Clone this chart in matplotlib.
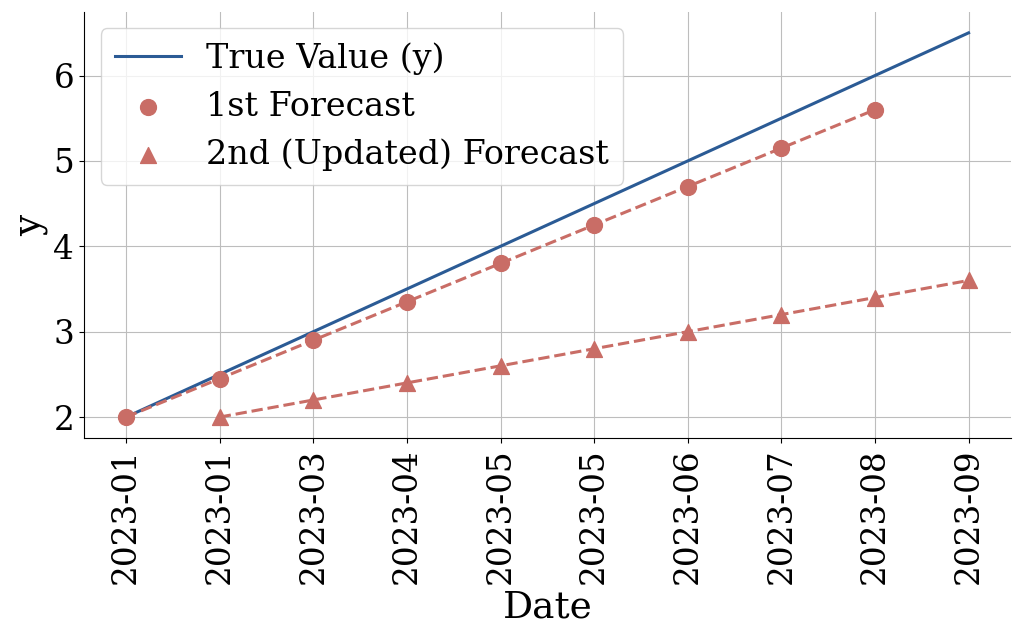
import matplotlib
matplotlib.use("Agg")
import matplotlib.pyplot as plt
import matplotlib.dates as mdates
import pandas as pd
import numpy as np

dates = pd.date_range("2023-01-01", periods=10, freq="30D")
true_values = [2.0, 2.5, 3.0, 3.5, 4.0, 4.5, 5.0, 5.5, 6.0, 6.5]
first_forecast = [2.0, 2.45, 2.9, 3.35, 3.8, 4.25, 4.7, 5.15, 5.6]
second_forecast = [2.0, 2.2, 2.4, 2.6, 2.8, 3.0, 3.2, 3.4, 3.6]

blue = "#2b5b95"
red = "#c96d66"

plt.rcParams["font.family"] = ["DejaVu Serif"]
fig = plt.figure(figsize=(10.24, 6.4), dpi=100)
ax = fig.add_axes([0.082, 0.315, 0.905, 0.667])

ax.plot(dates, true_values, color=blue, lw=2.2, label="True Value (y)", zorder=3)
ax.plot(dates[:9], first_forecast, color=red, lw=2.2, ls="--", zorder=3)
ax.scatter(dates[:9], first_forecast, color=red, s=130, marker="o", label="1st Forecast", zorder=4)
ax.plot(dates[1:], second_forecast, color=red, lw=2.2, ls="--", zorder=3)
ax.scatter(dates[1:], second_forecast, color=red, s=130, marker="^", label="2nd (Updated) Forecast", zorder=4)

ax.set_xticks(dates)
ax.xaxis.set_major_formatter(mdates.DateFormatter("%Y-%m"))
ax.tick_params(axis="x", rotation=90, labelsize=23.5)
ax.tick_params(axis="y", labelsize=23.5)
ax.set_yticks([2, 3, 4, 5, 6])
ax.set_xlabel("Date", fontsize=27, labelpad=4)
ax.set_ylabel("y", fontsize=27, labelpad=4)
ax.grid(True, color="#bdbdbd", lw=0.8)
ax.set_axisbelow(True)
ax.spines["top"].set_visible(False)
ax.spines["right"].set_visible(False)
ax.set_ylim(1.75, 6.75)
ax.legend(loc="upper left", fontsize=24, framealpha=0.8, borderpad=0.42,
          handlelength=2.0, handletextpad=0.75, labelspacing=0.47)
fig.savefig("out.png", dpi=100)
